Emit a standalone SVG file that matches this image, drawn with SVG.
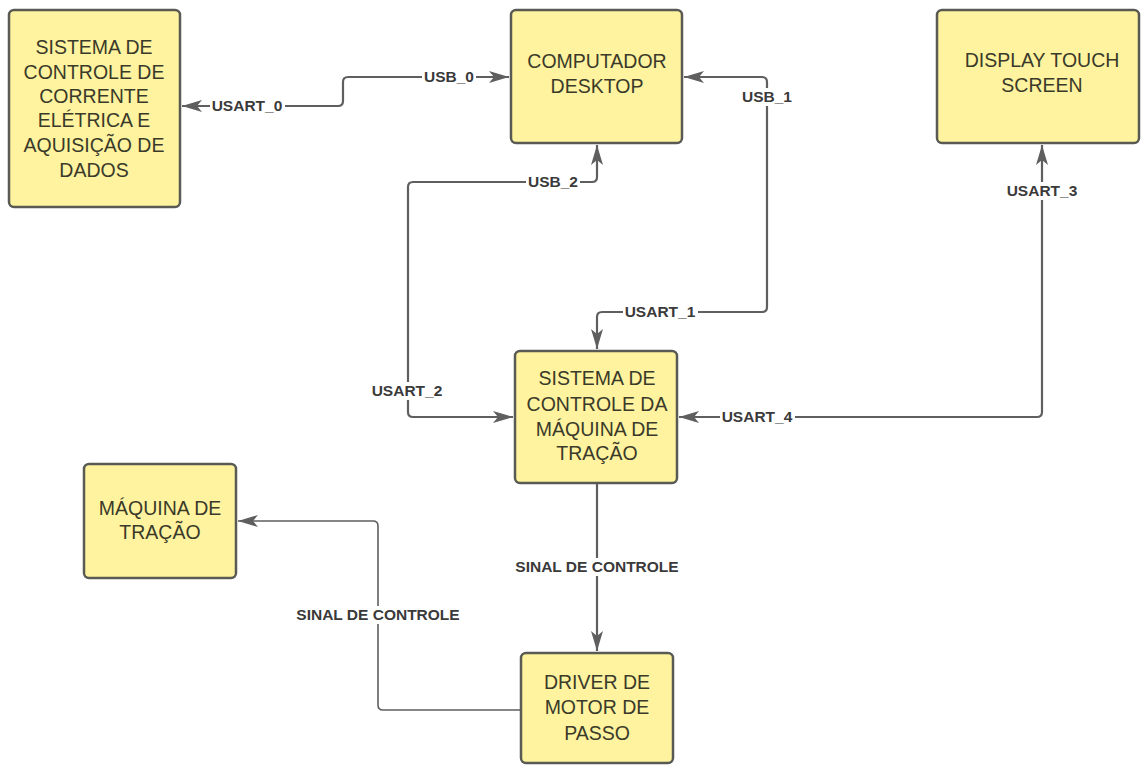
<svg xmlns="http://www.w3.org/2000/svg" width="1142" height="765" viewBox="0 0 1142 765">
<style>
.box{fill:#fff39f;stroke:#5a5a55;stroke-width:2.5}
.bt{font-family:"Liberation Sans",Arial,sans-serif;font-size:19.5px;fill:#3a3a2a;text-anchor:middle}
.ln{fill:none;stroke:#5f5f5f;stroke-width:2.2;stroke-linejoin:round}
.thin{stroke-width:1.6}
.lb{font-family:"Liberation Sans",Arial,sans-serif;font-size:15.5px;font-weight:bold;fill:#3a3a3a;text-anchor:middle}
.lbg{fill:#ffffff}
</style>
<defs>
<marker id="ah" viewBox="0 0 20 12" refX="20" refY="6" markerWidth="20" markerHeight="12" markerUnits="userSpaceOnUse" orient="auto-start-reverse">
<path d="M0,0 L20,6 L0,12 L5,6 Z" fill="#5f5f5f"/>
</marker>
</defs>
<rect width="1142" height="765" fill="#ffffff"/>

<g id="connectors">
<path class="ln" d="M182,106 H338 Q343,106 343,101 V82 Q343,77 348,77 H509" marker-start="url(#ah)" marker-end="url(#ah)"/>
<path class="ln" d="M684,77 H762 Q767,77 767,82 V307 Q767,312 762,312 H602 Q597,312 597,317 V349" marker-start="url(#ah)" marker-end="url(#ah)"/>
<path class="ln" d="M597,145 V177 Q597,182 592,182 H413 Q408,182 408,187 V412 Q408,417 413,417 H513" marker-start="url(#ah)" marker-end="url(#ah)"/>
<path class="ln" d="M679,417 H1037 Q1042,417 1042,412 V145" marker-start="url(#ah)" marker-end="url(#ah)"/>
<path class="ln" d="M597,484 V651" marker-end="url(#ah)"/>
<path class="ln thin" d="M521,710 H383 Q378,710 378,705 V526 Q378,521 373,521 H238" marker-end="url(#ah)"/>

<rect class="lbg" x="210" y="97" width="75" height="18"/>
<text class="lb" x="247" y="111">USART_0</text>
<rect class="lbg" x="422" y="68" width="54" height="18"/>
<text class="lb" x="449" y="82">USB_0</text>
<rect class="lbg" x="740" y="88" width="54" height="18"/>
<text class="lb" x="767" y="102">USB_1</text>
<rect class="lbg" x="623" y="303" width="75" height="18"/>
<text class="lb" x="660" y="317">USART_1</text>
<rect class="lbg" x="526" y="173" width="54" height="18"/>
<text class="lb" x="553" y="187">USB_2</text>
<rect class="lbg" x="370" y="382" width="75" height="18"/>
<text class="lb" x="407" y="396">USART_2</text>
<rect class="lbg" x="1005" y="182" width="75" height="18"/>
<text class="lb" x="1042" y="196">USART_3</text>
<rect class="lbg" x="720" y="408" width="75" height="18"/>
<text class="lb" x="757" y="422">USART_4</text>
<rect class="lbg" x="512" y="558" width="171" height="18"/>
<text class="lb" x="597" y="572">SINAL DE CONTROLE</text>
<rect class="lbg" x="293" y="606" width="171" height="18"/>
<text class="lb" x="378" y="620">SINAL DE CONTROLE</text>
</g>

<g id="node-corrente">
<rect class="box" x="9" y="10" width="171" height="197" rx="5"/>
<text class="bt" x="94" y="54">SISTEMA DE</text>
<text class="bt" x="94" y="79">CONTROLE DE</text>
<text class="bt" x="94" y="103">CORRENTE</text>
<text class="bt" x="94" y="127">ELÉTRICA E</text>
<text class="bt" x="94" y="152">AQUISIÇÃO DE</text>
<text class="bt" x="94" y="177">DADOS</text>
</g>

<g id="node-computador">
<rect class="box" x="511" y="10" width="171" height="133" rx="5"/>
<text class="bt" x="597" y="68">COMPUTADOR</text>
<text class="bt" x="597" y="93">DESKTOP</text>
</g>

<g id="node-display">
<rect class="box" x="937" y="10" width="202" height="133" rx="5"/>
<text class="bt" x="1042" y="67">DISPLAY TOUCH</text>
<text class="bt" x="1042" y="92">SCREEN</text>
</g>

<g id="node-maquina-controle">
<rect class="box" x="515" y="351" width="162" height="132" rx="5"/>
<text class="bt" x="597" y="385">SISTEMA DE</text>
<text class="bt" x="597" y="411">CONTROLE DA</text>
<text class="bt" x="597" y="436">MÁQUINA DE</text>
<text class="bt" x="597" y="460">TRAÇÃO</text>
</g>

<g id="node-maquina">
<rect class="box" x="84" y="464" width="152" height="114" rx="5"/>
<text class="bt" x="160" y="515">MÁQUINA DE</text>
<text class="bt" x="160" y="539">TRAÇÃO</text>
</g>

<g id="node-driver">
<rect class="box" x="521" y="653" width="152" height="110" rx="5"/>
<text class="bt" x="597" y="689">DRIVER DE</text>
<text class="bt" x="597" y="714">MOTOR DE</text>
<text class="bt" x="597" y="740">PASSO</text>
</g>
</svg>
